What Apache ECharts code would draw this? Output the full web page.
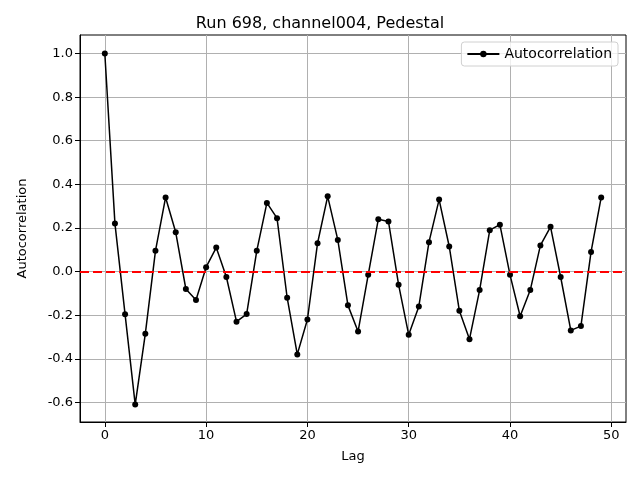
<!DOCTYPE html>
<html>
<head>
<meta charset="utf-8">
<script src="https://cdn.jsdelivr.net/npm/echarts@6/dist/echarts.min.js"></script>
<style>html,body{margin:0;padding:0;background:#fff}#c{width:640px;height:480px}</style>
</head>
<body>
<div id="c"></div>
<script>
const lags = Array.from({length: 50}, (_, i) => i);
const autocorr = [1.0, 0.22, -0.196, -0.61, -0.285, 0.095, 0.34, 0.18, -0.08, -0.13,
  0.02, 0.11, -0.025, -0.23, -0.195, 0.095, 0.315, 0.245, -0.12, -0.38,
  -0.22, 0.13, 0.345, 0.145, -0.155, -0.275, -0.015, 0.24, 0.23, -0.06,
  -0.29, -0.16, 0.135, 0.33, 0.115, -0.18, -0.31, -0.085, 0.19, 0.215,
  -0.015, -0.205, -0.085, 0.12, 0.205, -0.025, -0.27, -0.25, 0.09, 0.34];
const xTicks = [0, 10, 20, 30, 40, 50];
const yTicks = [-0.6, -0.4, -0.2, 0.0, 0.2, 0.4, 0.6, 0.8, 1.0];
const titleText = 'Run 698, channel004, Pedestal';

const font = 'DejaVu Sans';
const chart = echarts.init(document.getElementById('c'), null, {renderer: 'canvas'});
chart.setOption({
  animation: false,
  backgroundColor: '#fff',
  title: {text: titleText, left: 'center', top: 11,
    textStyle: {fontFamily: font, fontSize: 16, fontWeight: 'normal', color: '#000'}},
  grid: {left: 80, right: 14, top: 35, bottom: 58, show: true, borderColor: '#000', borderWidth: 1, backgroundColor: 'transparent'},
  legend: {right: 22, top: 42, orient: 'vertical', padding: [5, 6, 5, 5],
    borderColor: '#d0d0d0', borderWidth: 1, borderRadius: 3, backgroundColor: 'rgba(255,255,255,0.8)',
    itemWidth: 32, itemHeight: 8, itemGap: 8,
    textStyle: {fontFamily: font, fontSize: 14, color: '#000'},
    data: ['Autocorrelation']},
  xAxis: {type: 'value', min: -2.45, max: 51.45, name: 'Lag', nameLocation: 'middle', nameGap: 28,
    nameTextStyle: {fontFamily: font, fontSize: 13, color: '#000'},
    axisLine: {show: true, onZero: false, lineStyle: {color: '#000', width: 1}},
    axisTick: {show: true, length: 5, customValues: xTicks, lineStyle: {color: '#000'}},
    axisLabel: {customValues: xTicks, fontFamily: font, fontSize: 13, color: '#000', margin: 7},
    splitLine: {show: true, lineStyle: {color: '#b0b0b0', width: 1}}},
  yAxis: {type: 'value', min: -0.69, max: 1.085, name: 'Autocorrelation', nameLocation: 'middle', nameGap: 51,
    nameTextStyle: {fontFamily: font, fontSize: 13, color: '#000'},
    axisLine: {show: true, onZero: false, lineStyle: {color: '#000', width: 1}},
    axisTick: {show: true, length: 5, customValues: yTicks, lineStyle: {color: '#000'}},
    axisLabel: {customValues: yTicks, fontFamily: font, fontSize: 13, color: '#000', margin: 7,
      formatter: v => v.toFixed(1)},
    splitLine: {show: true, lineStyle: {color: '#b0b0b0', width: 1}}},
  series: [{
    name: 'Autocorrelation', type: 'line',
    data: lags.map((l, i) => [l, autocorr[i]]),
    symbol: 'circle', symbolSize: 6, showSymbol: true,
    lineStyle: {color: '#000', width: 1.5}, itemStyle: {color: '#000'},
    z: 3,
    markLine: {silent: true, symbol: 'none', label: {show: false},
      lineStyle: {color: '#ff0000', type: [9, 4], width: 2},
      data: [{yAxis: 0}]}
  }]
});
</script>
</body>
</html>
